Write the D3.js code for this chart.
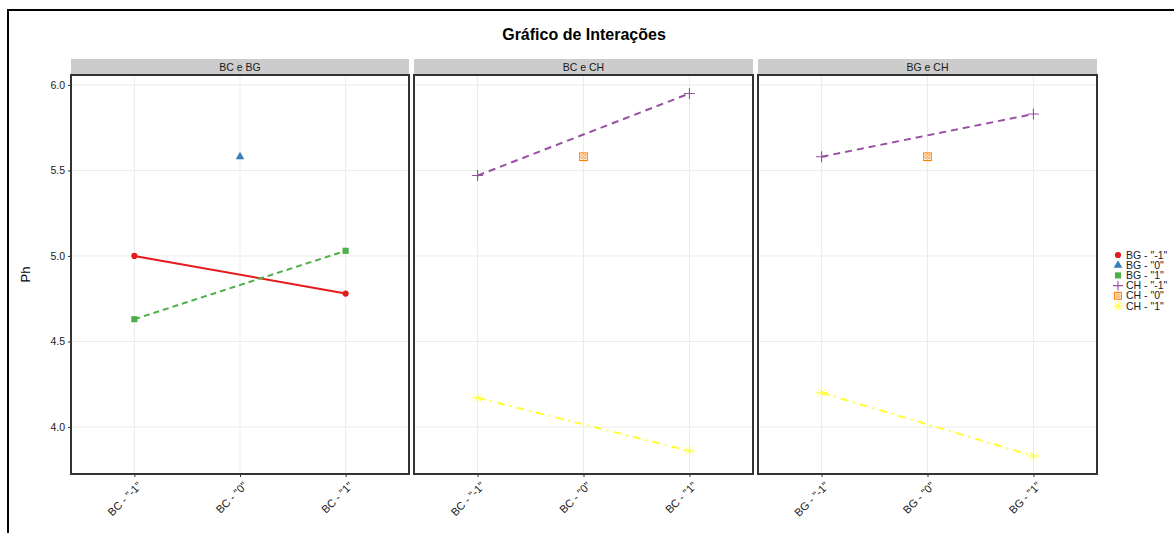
<!DOCTYPE html>
<html>
<head>
<meta charset="utf-8">
<script src="https://cdn.jsdelivr.net/npm/d3@7"></script>
<style>
  body { margin: 0; background: #fff; }
  svg { display: block; font-family: "Liberation Sans", Arial, sans-serif; }
</style>
</head>
<body>
<svg id="chart" width="1174" height="533"></svg>
<script>
// Facets and their x-axis levels
const panels = ["BC e BG", "BC e CH", "BG e CH"];
const panelLevels = [
  ['BC - "-1"', 'BC - "0"', 'BC - "1"'],
  ['BC - "-1"', 'BC - "0"', 'BC - "1"'],
  ['BG - "-1"', 'BG - "0"', 'BG - "1"']
];
const yTicks = [4.0, 4.5, 5.0, 5.5, 6.0];
const seriesNames = ['BG - "-1"', 'BG - "0"', 'BG - "1"', 'CH - "-1"', 'CH - "0"', 'CH - "1"'];

// Mean Ph per level: [x-level index, value]
const bc_bg_BGm1 = [[0, 5.00], [2, 4.78]];
const bc_bg_BG0  = [[1, 5.58]];
const bc_bg_BG1  = [[0, 4.63], [2, 5.03]];
const bc_ch_CHm1 = [[0, 5.47], [2, 5.95]];
const bc_ch_CH0  = [[1, 5.58]];
const bc_ch_CH1  = [[0, 4.17], [2, 3.86]];
const bg_ch_CHm1 = [[0, 5.58], [2, 5.83]];
const bg_ch_CH0  = [[1, 5.58]];
const bg_ch_CH1  = [[0, 4.20], [2, 3.83]];

const panelSeries = [
  [{ s: 0, d: bc_bg_BGm1 }, { s: 1, d: bc_bg_BG0 }, { s: 2, d: bc_bg_BG1 }],
  [{ s: 3, d: bc_ch_CHm1 }, { s: 4, d: bc_ch_CH0 }, { s: 5, d: bc_ch_CH1 }],
  [{ s: 3, d: bg_ch_CHm1 }, { s: 4, d: bg_ch_CH0 }, { s: 5, d: bg_ch_CH1 }]
];

const colors = ["#e41a1c", "#377eb8", "#4daf4a", "#984ea3", "#ff7f00", "#ffff33"];
const dashes = [null, null, "6,4", "7,5", null, "8,5,2,5"];

const svg = d3.select("#chart");

// Outer frame
svg.append("rect").attr("x", 8).attr("y", 10).attr("width", 1180).attr("height", 540)
  .attr("fill", "none").attr("stroke", "#000").attr("stroke-width", 2);

// Title
svg.append("text").attr("x", 584).attr("y", 40).attr("text-anchor", "middle")
  .attr("font-size", 16).attr("font-weight", "bold").attr("fill", "#000")
  .text("Gráfico de Interações");

const plotTop = 75, plotBottom = 474;
const panelX = [[71, 409], [414, 753], [758, 1097]];
const y = d3.scaleLinear().domain([3.725, 6.058]).range([plotBottom, plotTop]);

// Y axis title
svg.append("text").attr("transform", `translate(30,${(plotTop + plotBottom) / 2}) rotate(-90)`)
  .attr("text-anchor", "middle").attr("font-size", 13).attr("fill", "#000").text("Ph");

// Y axis
const yAxis = svg.append("g").attr("transform", `translate(${panelX[0][0]},0)`)
  .call(d3.axisLeft(y).tickValues(yTicks).tickFormat(d3.format(".1f")).tickSize(3).tickPadding(3));
yAxis.select(".domain").remove();
yAxis.selectAll("line").attr("stroke", "#333");
yAxis.selectAll("text").attr("font-size", 10.5).attr("fill", "#1a1a1a")
  .attr("font-family", "Liberation Sans, Arial, sans-serif");

function drawMarker(g, s, cx, cy, size) {
  const k = size || 1;
  const c = colors[s];
  if (s <= 2) {
    const sym = [d3.symbolCircle, d3.symbolTriangle, d3.symbolSquare][s];
    const area = [30, 32, 38][s];
    g.append("path").attr("d", d3.symbol(sym, area)())
      .attr("transform", `translate(${cx},${cy}) scale(${k})`).attr("fill", c);
  } else if (s === 3) {
    const r = 5.5 * k;
    g.append("path").attr("d", `M${cx - r},${cy}H${cx + r}M${cx},${cy - r}V${cy + r}`)
      .attr("stroke", c).attr("stroke-width", 1.1).attr("fill", "none");
  } else if (s === 4) {
    const r = 3.8 * k;
    g.append("rect").attr("x", cx - r).attr("y", cy - r).attr("width", 2 * r).attr("height", 2 * r)
      .attr("fill", "none").attr("stroke", c).attr("stroke-width", 1.1);
    g.append("circle").attr("cx", cx).attr("cy", cy).attr("r", r * 0.62)
      .attr("fill", "none").attr("stroke", c).attr("stroke-width", 0.6);
    const q = r * 0.55;
    g.append("path").attr("d", `M${cx - q},${cy - q}L${cx + q},${cy + q}M${cx - q},${cy + q}L${cx + q},${cy - q}`)
      .attr("stroke", c).attr("stroke-width", 0.6);
  } else {
    const r = 5.5 * k;
    const d = r * 0.72;
    g.append("path").attr("d",
      `M${cx - r},${cy}H${cx + r}M${cx},${cy - r}V${cy + r}M${cx - d},${cy - d}L${cx + d},${cy + d}M${cx - d},${cy + d}L${cx + d},${cy - d}`)
      .attr("stroke", c).attr("stroke-width", 1).attr("fill", "none");
  }
}

panels.forEach((name, i) => {
  const [x0, x1] = panelX[i];
  const x = d3.scalePoint().domain(panelLevels[i]).range([x0, x1]).padding(0.6);
  const g = svg.append("g");

  // Strip
  g.append("rect").attr("x", x0).attr("y", 59).attr("width", x1 - x0).attr("height", plotTop - 59)
    .attr("fill", "#cccccc");
  g.append("text").attr("x", (x0 + x1) / 2).attr("y", 71).attr("text-anchor", "middle")
    .attr("font-size", 10.5).attr("fill", "#1a1a1a").text(name);

  // Grid
  g.selectAll(".gy").data(yTicks).join("line")
    .attr("x1", x0).attr("x2", x1).attr("y1", d => y(d)).attr("y2", d => y(d))
    .attr("stroke", "#ebebeb").attr("stroke-width", 1);
  g.selectAll(".gx").data(panelLevels[i]).join("line")
    .attr("x1", d => x(d)).attr("x2", d => x(d)).attr("y1", plotTop).attr("y2", plotBottom)
    .attr("stroke", "#ebebeb").attr("stroke-width", 1);

  // Series
  panelSeries[i].forEach(({ s, d }) => {
    const pts = d.map(([li, v]) => [x(panelLevels[i][li]), y(v)]);
    if (pts.length > 1) {
      g.append("path").attr("d", d3.line()(pts)).attr("fill", "none")
        .attr("stroke", colors[s]).attr("stroke-width", 2)
        .attr("stroke-dasharray", dashes[s]);
    }
    pts.forEach(([px, py]) => drawMarker(g, s, px, py));
  });

  // Panel border
  g.append("rect").attr("x", x0).attr("y", plotTop).attr("width", x1 - x0).attr("height", plotBottom - plotTop)
    .attr("fill", "none").attr("stroke", "#333").attr("stroke-width", 2);

  // X axis
  const xa = svg.append("g").attr("transform", `translate(0,${plotBottom})`)
    .call(d3.axisBottom(x).tickSize(3).tickPadding(2));
  xa.select(".domain").remove();
  xa.selectAll("line").attr("stroke", "#333");
  xa.selectAll("text").attr("font-size", 11).attr("fill", "#1a1a1a")
    .attr("font-family", "Liberation Sans, Arial, sans-serif")
    .attr("text-anchor", "end").attr("dy", null)
    .attr("transform", "translate(4,9) rotate(-45)");
});

// Legend
const legend = svg.append("g");
seriesNames.forEach((n, i) => {
  const ly = 255 + i * 10.2;
  drawMarker(legend, i, 1118, ly, i <= 2 ? 1 : 0.9);
  legend.append("text").attr("x", 1126).attr("y", ly + 3.5).attr("font-size", 10.5)
    .attr("fill", "#1a1a1a").text(n);
});
</script>
</body>
</html>
